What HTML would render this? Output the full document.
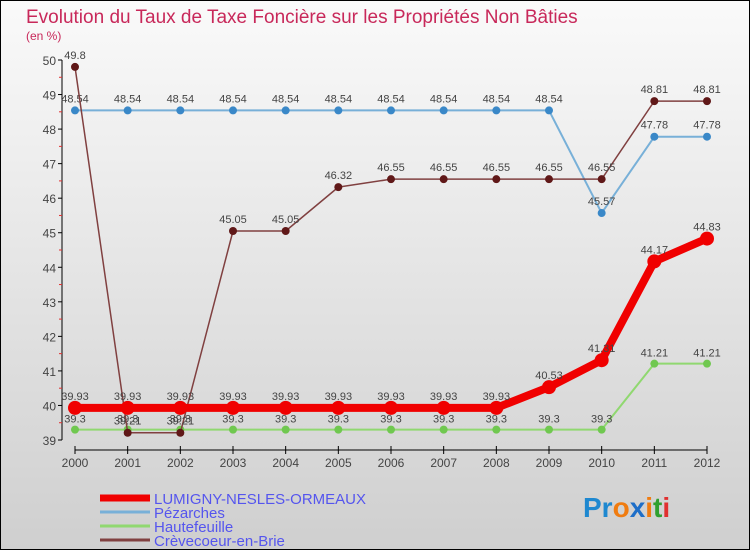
<!DOCTYPE html>
<html><head><meta charset="utf-8"><style>
body{margin:0;padding:0}
svg text{font-family:"Liberation Sans",sans-serif}
</style></head><body>
<svg width="750" height="550" viewBox="0 0 750 550" xmlns="http://www.w3.org/2000/svg">
<defs><linearGradient id="bg" x1="0" y1="0" x2="0" y2="1"><stop offset="0" stop-color="#fafafa"/><stop offset="1" stop-color="#cfcfcf"/></linearGradient></defs>
<rect x="0.5" y="0.5" width="749" height="549" fill="url(#bg)" stroke="#000" stroke-width="1"/>
<text x="26" y="23" font-size="19" fill="#c8285a">Evolution du Taux de Taxe Foncière sur les Propriétés Non Bâties</text>
<text x="26" y="40" font-size="12" fill="#c8285a">(en %)</text>
<g id="axes"></g><g id="series"></g><g id="legend"></g>
<text x="583" y="517" font-size="28" font-weight="bold"><tspan fill="#1e88d0">Pr</tspan><tspan fill="#f07c10">o</tspan><tspan fill="#1e6ec8">x</tspan><tspan fill="#f07c10">i</tspan><tspan fill="#30a030">t</tspan><tspan fill="#e03030">i</tspan></text>
</svg>
<script>
const years=["2000","2001","2002","2003","2004","2005","2006","2007","2008","2009","2010","2011","2012"];
const yTicks=[39,40,41,42,43,44,45,46,47,48,49,50];
const lumigny=[39.93,39.93,39.93,39.93,39.93,39.93,39.93,39.93,39.93,40.53,41.31,44.17,44.83];
const pezarches=[48.54,48.54,48.54,48.54,48.54,48.54,48.54,48.54,48.54,48.54,45.57,47.78,47.78];
const hautefeuille=[39.3,39.3,39.3,39.3,39.3,39.3,39.3,39.3,39.3,39.3,39.3,41.21,41.21];
const crevecoeur=[49.8,39.21,39.21,45.05,45.05,46.32,46.55,46.55,46.55,46.55,46.55,48.81,48.81];
const names=["LUMIGNY-NESLES-ORMEAUX","Pézarches","Hautefeuille","Crèvecoeur-en-Brie"];
const NS="http://www.w3.org/2000/svg";
const X=i=>75+i*(632/12);
const Y=v=>60+(50-v)*(380/11);
function mk(tag,attrs,parent,txt){const e=document.createElementNS(NS,tag);for(const k in attrs)e.setAttribute(k,attrs[k]);if(txt!==undefined)e.textContent=txt;parent.appendChild(e);return e;}
const ax=document.getElementById('axes');
let l=mk('line',{x1:62,y1:Y(50),x2:62,y2:Y(39),stroke:'#000'},ax);


yTicks.forEach(v=>{
 let t=mk('line',{x1:58,y1:Y(v),x2:62,y2:Y(v),stroke:'#000'},ax);
 
 
 let tx=mk('text',{x:56,y:Y(v)+5,'font-size':12,fill:'#444','text-anchor':'end'},ax,String(v));
 
 
 if(v<50){let m=mk('line',{x1:59,y1:Y(v+0.5),x2:62,y2:Y(v+0.5),stroke:'#e03030'},ax);
 
 }
});
let xa=mk('line',{x1:X(0),y1:450,x2:X(12),y2:450,stroke:'#000'},ax);


years.forEach((y,i)=>{
 let t=mk('line',{x1:X(i),y1:446,x2:X(i),y2:454,stroke:'#000'},ax);
 
 
 let tx=mk('text',{x:X(i),y:467,'font-size':12,fill:'#444','text-anchor':'middle'},ax,y);
 
 
});
const sg=document.getElementById('series');
const defs=[
 {d:hautefeuille,c:'#90d870',pc:'#70c850',w:2,r:4,name:'hautefeuille',lo:1},
 {d:pezarches,c:'#78b0d8',pc:'#3a88c8',w:2,r:4,name:'pezarches',lo:0},
 {d:crevecoeur,c:'#804040',pc:'#601818',w:1.5,r:4,name:'crevecoeur',lo:0},
 {d:lumigny,c:'#f00000',pc:'#f00000',w:8,r:7,name:'lumigny',lo:0}
];
defs.forEach(s=>{
 let p=mk('polyline',{points:s.d.map((v,i)=>X(i)+','+Y(v)).join(' '),fill:'none',stroke:s.c,'stroke-width':s.w,'stroke-linejoin':'round'},sg);
 
 
 s.d.forEach((v,i)=>{
  let c=mk('circle',{cx:X(i),cy:Y(v),r:s.r,fill:s.pc},sg);
  
  
  let t=mk('text',{x:X(i),y:s.lo?Y(v)-7:Y(v)-8,'font-size':11,fill:'#444','text-anchor':'middle'},sg,String(v));
  
  
 });
});
const lg=document.getElementById('legend');
const lc=['#f00000','#78b0d8','#90d870','#804040'],lw=[7,3,3,3];
names.forEach((n,i)=>{
 const y=498+i*14;
 let r=mk('rect',{x:100,y:y-lw[i]/2,width:50,height:lw[i],fill:lc[i]},lg);
 
 
 let t=mk('text',{x:154,y:y+6,'font-size':15,fill:'#5555ee'},lg,n);
 
 
});
</script>
</body></html>
